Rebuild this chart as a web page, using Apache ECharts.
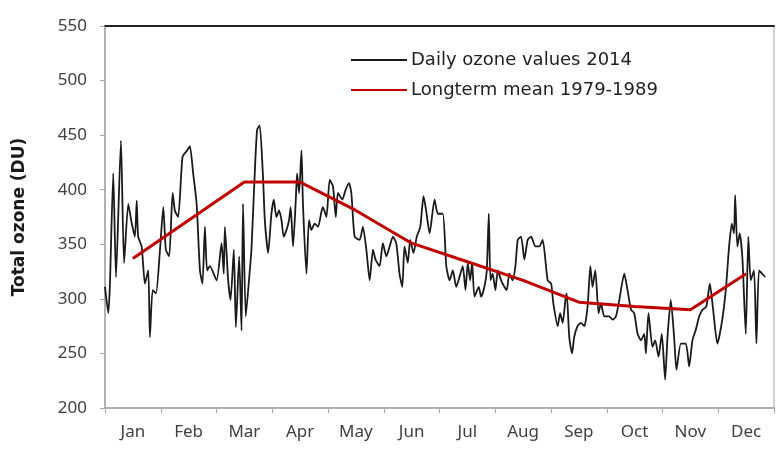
<!DOCTYPE html>
<html>
<head>
<meta charset="utf-8">
<script src="https://cdn.jsdelivr.net/npm/echarts@6/dist/echarts.min.js"></script>
<style>
  html, body { margin: 0; padding: 0; background: #fff; }
  #chart { width: 776px; height: 449px; }
</style>
</head>
<body>
<div id="chart"></div>
<script>
// month labels along the bottom
const months = ["Jan", "Feb", "Mar", "Apr", "May", "Jun", "Jul", "Aug", "Sep", "Oct", "Nov", "Dec"];

// longterm monthly mean 1979-1989 (DU), one per month
const meanValues = [337, 372, 407, 407, 381, 351, 334, 317, 297, 293, 290, 323];

// daily ozone 2014 at the turning points (day of year, DU)
const ozoneDay = [
  0, 1.8, 2.7, 4.5, 6.0, 8.7, 10.4, 12.7, 14.5, 16.3, 17.3, 18.1, 20.0, 21.8, 23.6, 24.5, 26.0, 27.8, 30.0,
  31.8, 33.2, 35.0, 36.9, 38.1, 39.9, 42.3, 44.8, 46.3, 48.1, 50.0, 51.8, 53.2, 54.5, 55.7, 57.2, 60.9,
  63.6, 64.8, 65.4, 67.2, 68.5, 70.3, 71.4, 73.2, 74.5, 75.3, 76.8, 79.0, 79.9, 81.7, 83.0, 84.4, 86.2,
  87.2, 89.0, 90.8, 92.1, 93.5, 95.0, 96.3, 97.5, 99.0, 100.4, 101.3, 102.6, 104.1, 104.8, 105.9, 107.2,
  108.0, 109.9, 111.3, 112.6, 114.4, 116.2, 118.1, 118.9, 120.8, 122.6, 124.4, 125.9, 127.1, 129.5, 131.3,
  133.1, 134.4, 136.2, 138.9, 140.7, 142.6, 144.4, 146.2, 147.6, 149.8, 151.6, 153.5, 155.3, 157.1, 158.9,
  160.7, 162.2, 163.4, 165.2, 166.5, 168.3, 170.1, 172.0, 173.8, 175.2, 177.1, 179.8, 181.6, 184.3, 186.2,
  188.0, 189.8, 191.6, 193.4, 195.2, 196.7, 197.9, 199.2, 200.3, 201.6, 203.9, 205.2, 207.0, 208.3, 209.4,
  210.3, 211.5, 213.0, 214.3, 216.1, 217.9, 219.2, 220.6, 222.4, 223.9, 225.2, 227.0, 228.8, 230.6, 232.5,
  234.8, 237.0, 238.8, 241.5, 243.4, 244.6, 247.0, 248.3, 249.7, 251.2, 251.9, 253.3, 254.8, 256.0, 257.8,
  259.7, 261.5, 263.3, 264.8, 266.0, 267.5, 269.3, 270.6, 272.4, 275.1, 276.9, 278.8, 280.6, 283.3, 285.1,
  287.0, 288.7, 290.6, 292.4, 294.2, 295.1, 296.5, 298.7, 300.2, 302.0, 303.8, 305.6, 306.9, 308.7, 310.5,
  311.8, 314.2, 316.9, 318.7, 320.5, 322.4, 324.2, 326.0, 328.1, 330.0, 331.8, 334.1, 336.5, 338.7, 340.5,
  342.0, 343.2, 343.8, 345.0, 346.3, 347.8, 349.6, 351.0, 352.3, 354.1, 355.4, 356.8, 358.6, 360.1
];
const ozoneValue = [
  311, 287, 314, 415, 320, 445, 333, 387, 370, 357, 390, 357, 348, 314, 326, 265, 308, 305, 345,
  384, 345, 339, 397, 381, 375, 430, 436, 440, 415, 387, 326, 314, 366, 326, 330, 317,
  351, 323, 366, 317, 299, 345, 274, 339, 271, 387, 284, 326, 345, 415, 455, 459, 412,
  372, 342, 378, 391, 375, 381, 372, 357, 363, 372, 384, 348, 391, 415, 397, 436,
  387, 323, 372, 363, 369, 366, 380, 384, 375, 409, 403, 375, 397, 391, 400,
  406, 397, 357, 354, 366, 345, 317, 345, 336, 330, 351, 339, 348, 357, 351,
  323, 311, 348, 333, 354, 342, 357, 366, 394, 381, 360, 391, 378, 378, 330,
  317, 326, 311, 320, 330, 308, 333, 317, 333, 302, 311, 302, 311, 326, 378,
  317, 323, 308, 326, 317, 311, 308, 323, 317, 330, 354, 357, 336, 354, 357,
  348, 348, 354, 317, 314, 296, 275, 287, 278, 299, 305, 265, 250, 265, 275,
  278, 275, 293, 330, 311, 326, 287, 296, 284, 284, 281, 284, 299, 323, 308,
  290, 287, 268, 262, 268, 250, 287, 256, 262, 247, 268, 226, 265, 299, 265,
  235, 259, 259, 238, 262, 272, 284, 290, 293, 314, 290, 259, 278, 308, 348,
  369, 360, 395, 348, 360, 336, 268, 357, 317, 326, 259, 326, 323, 320
];

// y axis range and step
const yMin = 200;
const yMax = 550;
const yStep = 50;

const dailySeries = ozoneDay.map((d, i) => [d, ozoneValue[i]]);

const chart = echarts.init(document.getElementById("chart"));
chart.setOption({
  animation: false,
  backgroundColor: "#ffffff",
  textStyle: { fontFamily: "Noto Sans" },
  grid: {
    left: 105,
    right: 2,
    top: 26,
    bottom: 41,
    show: true,
    borderColor: "#a6a6a6",
    borderWidth: 1
  },
  legend: {
    orient: "vertical",
    left: 345,
    top: 46,
    itemWidth: 56,
    itemHeight: 14,
    itemGap: 12,
    itemStyle: { opacity: 0 },
    textStyle: { fontSize: 18, color: "#1f1f1f", fontFamily: "DejaVu Sans", padding: [0, 0, 0, -1] },
    data: ["Daily ozone values 2014", "Longterm mean 1979-1989"]
  },
  xAxis: [
    {
      type: "category",
      data: months,
      boundaryGap: true,
      axisLine: { lineStyle: { color: "#a6a6a6", width: 1.5 } },
      axisTick: { show: true, length: 5, lineStyle: { color: "#a6a6a6" } },
      axisLabel: { fontSize: 17, color: "#404040", margin: 16 },
      splitLine: { show: false }
    },
    {
      type: "value",
      position: "top",
      min: 0,
      max: 365,
      axisLine: { show: true, onZero: false, lineStyle: { color: "#222", width: 2 } },
      axisTick: { show: false },
      axisLabel: { show: false },
      splitLine: { show: false }
    }
  ],
  yAxis: {
    type: "value",
    min: yMin,
    max: yMax,
    interval: yStep,
    name: "Total ozone (DU)",
    nameLocation: "middle",
    nameGap: 77,
    nameTextStyle: { fontSize: 17, fontWeight: "bold", color: "#1a1a1a", fontFamily: "DejaVu Sans" },
    axisLine: { show: true, lineStyle: { color: "#a6a6a6", width: 1.5 } },
    axisTick: { show: true, length: 5, lineStyle: { color: "#a6a6a6" } },
    axisLabel: { fontSize: 17, color: "#404040", margin: 18 },
    splitLine: { show: false }
  },
  series: [
    {
      name: "Daily ozone values 2014",
      type: "line",
      xAxisIndex: 1,
      data: dailySeries,
      symbol: "none",
      smooth: 0.2,
      lineStyle: { color: "#1a1a1a", width: 1.8 },
      itemStyle: { color: "#1a1a1a" },
      z: 2
    },
    {
      name: "Longterm mean 1979-1989",
      type: "line",
      xAxisIndex: 0,
      data: meanValues,
      symbol: "none",
      lineStyle: { color: "#c00000", width: 3 },
      itemStyle: { color: "#c00000" },
      z: 3
    }
  ]
});
</script>
</body>
</html>
